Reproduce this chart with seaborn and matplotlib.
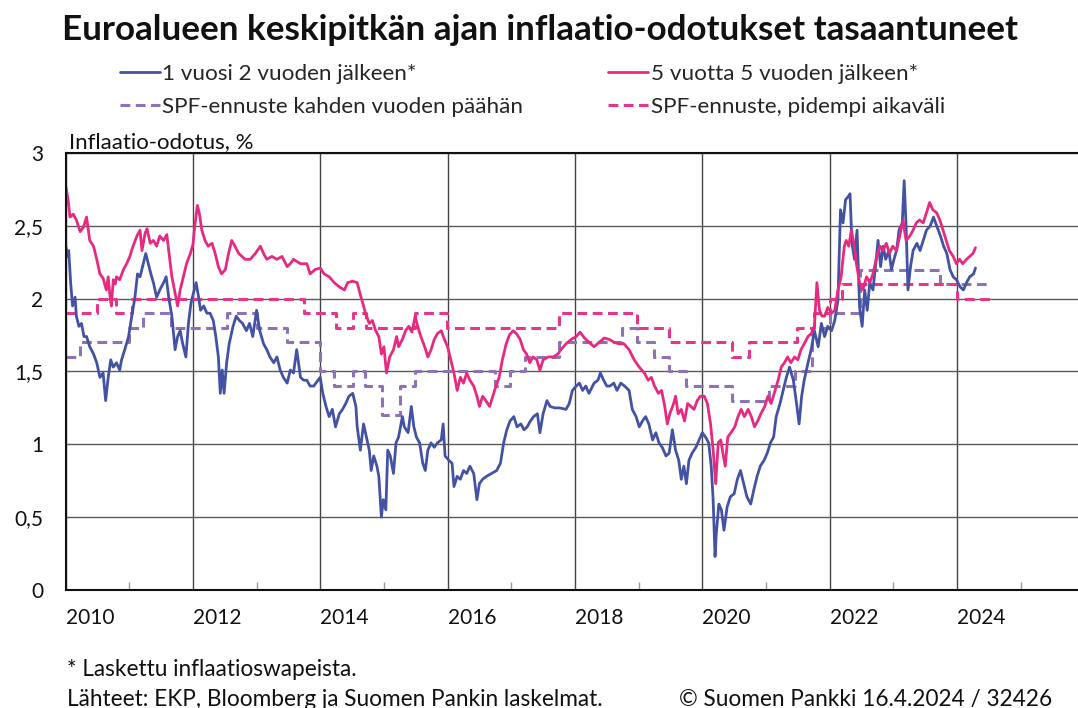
import matplotlib
matplotlib.use("Agg")
import matplotlib.pyplot as plt
import seaborn as sns

# 1 vuosi 2 vuoden jälkeen (decimal years / %)
t_1y2y = [2010.00, 2010.03, 2010.05, 2010.08, 2010.11, 2010.15, 2010.17, 2010.21, 2010.25, 2010.29,
          2010.33, 2010.38, 2010.44, 2010.49, 2010.54, 2010.59, 2010.63, 2010.67, 2010.71, 2010.75,
          2010.80, 2010.85, 2010.88, 2010.93, 2010.99, 2011.04, 2011.09, 2011.13, 2011.17, 2011.22,
          2011.26, 2011.30, 2011.34, 2011.38, 2011.43, 2011.48, 2011.54, 2011.58, 2011.62, 2011.67,
          2011.72, 2011.76, 2011.80, 2011.84, 2011.89, 2011.93, 2011.97, 2012.01, 2012.05, 2012.09,
          2012.12, 2012.17, 2012.22, 2012.27, 2012.32, 2012.36, 2012.40, 2012.43, 2012.46, 2012.49,
          2012.53, 2012.57, 2012.63, 2012.68, 2012.73, 2012.78, 2012.84, 2012.89, 2012.94, 2013.00,
          2013.05, 2013.11, 2013.16, 2013.21, 2013.27, 2013.32, 2013.37, 2013.42, 2013.48, 2013.53,
          2013.58, 2013.63, 2013.69, 2013.74, 2013.79, 2013.84, 2013.90, 2013.93, 2014.00, 2014.04,
          2014.09, 2014.14, 2014.19, 2014.24, 2014.30, 2014.35, 2014.40, 2014.45, 2014.51, 2014.56,
          2014.58, 2014.63, 2014.68, 2014.71, 2014.77, 2014.80, 2014.84, 2014.89, 2014.92, 2014.96,
          2014.99, 2015.03, 2015.06, 2015.10, 2015.15, 2015.19, 2015.23, 2015.29, 2015.32, 2015.38,
          2015.43, 2015.47, 2015.51, 2015.56, 2015.61, 2015.65, 2015.69, 2015.74, 2015.79, 2015.84,
          2015.90, 2015.93, 2015.96, 2016.02, 2016.07, 2016.10, 2016.15, 2016.20, 2016.25, 2016.30,
          2016.35, 2016.41, 2016.46, 2016.50, 2016.55, 2016.61, 2016.69, 2016.77, 2016.83, 2016.88,
          2016.93, 2016.98, 2017.04, 2017.09, 2017.15, 2017.20, 2017.25, 2017.30, 2017.35, 2017.41,
          2017.45, 2017.50, 2017.56, 2017.61, 2017.68, 2017.76, 2017.86, 2017.91, 2017.96, 2018.02,
          2018.07, 2018.12, 2018.17, 2018.22, 2018.30, 2018.36, 2018.40, 2018.45, 2018.50, 2018.55,
          2018.61, 2018.66, 2018.72, 2018.78, 2018.85, 2018.90, 2018.96, 2019.01, 2019.06, 2019.11,
          2019.16, 2019.22, 2019.27, 2019.32, 2019.37, 2019.43, 2019.48, 2019.53, 2019.58, 2019.63,
          2019.67, 2019.71, 2019.75, 2019.79, 2019.84, 2019.90, 2019.95, 2020.00, 2020.05, 2020.10,
          2020.14, 2020.17, 2020.20, 2020.22, 2020.26, 2020.30, 2020.34, 2020.39, 2020.44, 2020.50,
          2020.55, 2020.60, 2020.65, 2020.70, 2020.76, 2020.81, 2020.86, 2020.91, 2020.97, 2021.02,
          2021.07, 2021.12, 2021.16, 2021.22, 2021.27, 2021.32, 2021.37, 2021.43, 2021.48, 2021.52,
          2021.56, 2021.60, 2021.66, 2021.71, 2021.76, 2021.82, 2021.87, 2021.92, 2021.97, 2022.03,
          2022.08, 2022.13, 2022.17, 2022.21, 2022.25, 2022.29, 2022.32, 2022.35, 2022.39, 2022.43,
          2022.47, 2022.51, 2022.55, 2022.59, 2022.63, 2022.68, 2022.72, 2022.76, 2022.80, 2022.84,
          2022.88, 2022.93, 2022.97, 2023.01, 2023.05, 2023.09, 2023.14, 2023.17, 2023.20, 2023.23,
          2023.27, 2023.31, 2023.37, 2023.42, 2023.47, 2023.52, 2023.58, 2023.63, 2023.68, 2023.74,
          2023.79, 2023.84, 2023.89, 2023.94, 2023.99, 2024.05, 2024.10, 2024.15, 2024.20, 2024.26,
          2024.29]
v_1y2y = [2.37, 2.29, 2.33, 2.11, 1.95, 2.01, 1.88, 1.81, 1.83, 1.74,
          1.74, 1.67, 1.62, 1.56, 1.46, 1.49, 1.30, 1.46, 1.58, 1.53,
          1.56, 1.51, 1.58, 1.65, 1.74, 1.88, 2.01, 2.17, 2.15, 2.24,
          2.31, 2.24, 2.17, 2.11, 2.01, 2.06, 2.11, 2.15, 2.01, 1.88,
          1.65, 1.74, 1.78, 1.69, 1.60, 1.83, 1.97, 2.04, 2.11, 2.01,
          1.92, 1.95, 1.90, 1.90, 1.85, 1.74, 1.60, 1.35, 1.51, 1.35,
          1.56, 1.69, 1.81, 1.88, 1.85, 1.83, 1.78, 1.83, 1.74, 1.92,
          1.78, 1.69, 1.65, 1.60, 1.56, 1.60, 1.51, 1.46, 1.42, 1.51,
          1.49, 1.65, 1.46, 1.44, 1.44, 1.40, 1.40, 1.42, 1.46, 1.35,
          1.26, 1.19, 1.24, 1.12, 1.21, 1.24, 1.28, 1.33, 1.35, 1.26,
          1.12, 0.96, 1.14, 1.08, 0.96, 0.82, 0.92, 0.85, 0.78, 0.50,
          0.62, 0.55, 0.96, 0.92, 0.80, 1.01, 1.05, 1.19, 1.12, 1.08,
          1.26, 1.12, 1.05, 1.01, 0.87, 0.82, 0.96, 1.01, 0.98, 1.01,
          1.03, 1.14, 0.92, 0.89, 0.87, 0.71, 0.78, 0.76, 0.82, 0.80,
          0.85, 0.80, 0.62, 0.73, 0.76, 0.78, 0.80, 0.82, 0.87, 1.01,
          1.10, 1.16, 1.19, 1.12, 1.14, 1.10, 1.12, 1.16, 1.19, 1.21,
          1.08, 1.21, 1.30, 1.26, 1.25, 1.25, 1.24, 1.28, 1.37, 1.40,
          1.42, 1.37, 1.40, 1.35, 1.42, 1.44, 1.49, 1.44, 1.40, 1.40,
          1.42, 1.37, 1.42, 1.40, 1.37, 1.24, 1.19, 1.12, 1.16, 1.19,
          1.14, 1.03, 1.08, 1.01, 0.98, 0.92, 0.94, 1.10, 0.96, 0.89,
          0.76, 0.85, 0.73, 0.89, 0.94, 0.98, 1.03, 1.08, 1.05, 1.01,
          0.85, 0.62, 0.23, 0.39, 0.59, 0.55, 0.41, 0.57, 0.64, 0.66,
          0.76, 0.82, 0.73, 0.64, 0.59, 0.69, 0.78, 0.85, 0.89, 0.94,
          1.01, 1.05, 1.19, 1.28, 1.37, 1.46, 1.53, 1.44, 1.28, 1.14,
          1.33, 1.44, 1.56, 1.65, 1.78, 1.67, 1.83, 1.74, 1.81, 1.78,
          1.85, 1.99, 2.61, 2.52, 2.68, 2.70, 2.72, 2.38, 2.27, 2.47,
          1.94, 1.81, 2.06, 1.92, 2.11, 2.06, 2.22, 2.40, 2.22, 2.36,
          2.27, 2.33, 2.20, 2.27, 2.33, 2.47, 2.52, 2.81, 2.50, 2.06,
          2.22, 2.33, 2.38, 2.33, 2.40, 2.47, 2.50, 2.56, 2.50, 2.43,
          2.36, 2.31, 2.20, 2.15, 2.13, 2.08, 2.06, 2.11, 2.15, 2.17,
          2.21]

# 5 vuotta 5 vuoden jälkeen
t_5y5y = [2010.00, 2010.04, 2010.07, 2010.12, 2010.17, 2010.23, 2010.28, 2010.33, 2010.38, 2010.44,
          2010.49, 2010.54, 2010.59, 2010.64, 2010.67, 2010.70, 2010.72, 2010.75, 2010.78, 2010.80,
          2010.85, 2010.91, 2010.96, 2011.01, 2011.06, 2011.12, 2011.17, 2011.20, 2011.25, 2011.28,
          2011.33, 2011.38, 2011.43, 2011.48, 2011.54, 2011.59, 2011.62, 2011.67, 2011.72, 2011.76,
          2011.80, 2011.85, 2011.90, 2011.96, 2012.00, 2012.03, 2012.07, 2012.10, 2012.14, 2012.19,
          2012.24, 2012.30, 2012.35, 2012.40, 2012.45, 2012.51, 2012.56, 2012.61, 2012.66, 2012.72,
          2012.77, 2012.82, 2012.90, 2012.98, 2013.06, 2013.11, 2013.16, 2013.24, 2013.32, 2013.40,
          2013.48, 2013.53, 2013.58, 2013.69, 2013.79, 2013.84, 2013.92, 2014.00, 2014.06, 2014.14,
          2014.22, 2014.30, 2014.38, 2014.43, 2014.51, 2014.58, 2014.64, 2014.68, 2014.71, 2014.77,
          2014.82, 2014.87, 2014.92, 2014.96, 2015.00, 2015.04, 2015.09, 2015.15, 2015.20, 2015.23,
          2015.29, 2015.34, 2015.39, 2015.44, 2015.49, 2015.53, 2015.58, 2015.64, 2015.69, 2015.74,
          2015.79, 2015.84, 2015.90, 2015.95, 2016.00, 2016.05, 2016.10, 2016.15, 2016.20, 2016.25,
          2016.30, 2016.35, 2016.41, 2016.46, 2016.50, 2016.55, 2016.60, 2016.66, 2016.71, 2016.76,
          2016.81, 2016.86, 2016.92, 2016.97, 2017.03, 2017.08, 2017.14, 2017.19, 2017.24, 2017.29,
          2017.34, 2017.40, 2017.45, 2017.50, 2017.58, 2017.66, 2017.73, 2017.78, 2017.86, 2017.94,
          2018.02, 2018.08, 2018.15, 2018.22, 2018.30, 2018.38, 2018.46, 2018.54, 2018.62, 2018.69,
          2018.77, 2018.85, 2018.93, 2019.01, 2019.09, 2019.15, 2019.20, 2019.25, 2019.31, 2019.36,
          2019.41, 2019.45, 2019.49, 2019.55, 2019.58, 2019.62, 2019.67, 2019.72, 2019.77, 2019.82,
          2019.87, 2019.92, 2019.97, 2020.03, 2020.08, 2020.13, 2020.17, 2020.21, 2020.25, 2020.29,
          2020.33, 2020.36, 2020.40, 2020.45, 2020.51, 2020.56, 2020.61, 2020.66, 2020.72, 2020.77,
          2020.82, 2020.87, 2020.92, 2020.98, 2021.03, 2021.08, 2021.13, 2021.19, 2021.24, 2021.29,
          2021.34, 2021.39, 2021.45, 2021.50, 2021.55, 2021.60, 2021.66, 2021.71, 2021.76, 2021.80,
          2021.84, 2021.88, 2021.92, 2021.97, 2022.03, 2022.08, 2022.13, 2022.18, 2022.23, 2022.26,
          2022.30, 2022.34, 2022.38, 2022.42, 2022.47, 2022.52, 2022.58, 2022.63, 2022.68, 2022.73,
          2022.79, 2022.84, 2022.89, 2022.94, 2022.99, 2023.05, 2023.10, 2023.15, 2023.20, 2023.26,
          2023.31, 2023.36, 2023.41, 2023.47, 2023.52, 2023.57, 2023.62, 2023.68, 2023.73, 2023.78,
          2023.83, 2023.88, 2023.94, 2023.99, 2024.04, 2024.09, 2024.15, 2024.20, 2024.25, 2024.29]
v_5y5y = [2.78, 2.68, 2.56, 2.58, 2.54, 2.46, 2.49, 2.56, 2.40, 2.36,
          2.27, 2.17, 2.14, 2.06, 2.15, 2.01, 1.95, 2.13, 2.10, 2.15,
          2.13, 2.20, 2.24, 2.29, 2.36, 2.43, 2.47, 2.33, 2.45, 2.48,
          2.38, 2.40, 2.36, 2.43, 2.40, 2.44, 2.33, 2.15, 2.04, 1.95,
          2.06, 2.15, 2.24, 2.31, 2.37, 2.50, 2.64, 2.59, 2.47, 2.40,
          2.36, 2.38, 2.31, 2.22, 2.17, 2.20, 2.31, 2.40, 2.36, 2.31,
          2.29, 2.27, 2.27, 2.31, 2.36, 2.31, 2.27, 2.29, 2.27, 2.29,
          2.22, 2.24, 2.27, 2.24, 2.24, 2.17, 2.20, 2.21, 2.17, 2.15,
          2.11, 2.08, 2.06, 2.11, 2.12, 2.11, 2.01, 1.95, 1.90, 1.83,
          1.85, 1.78, 1.74, 1.62, 1.67, 1.49, 1.60, 1.65, 1.74, 1.67,
          1.72, 1.78, 1.81, 1.77, 1.88, 1.81, 1.74, 1.67, 1.60, 1.65,
          1.72, 1.76, 1.78, 1.72, 1.67, 1.58, 1.49, 1.37, 1.46, 1.42,
          1.49, 1.44, 1.40, 1.33, 1.26, 1.33, 1.30, 1.26, 1.33, 1.40,
          1.46, 1.58, 1.69, 1.75, 1.78, 1.76, 1.72, 1.65, 1.62, 1.56,
          1.60, 1.58, 1.51, 1.58, 1.60, 1.60, 1.62, 1.65, 1.69, 1.72,
          1.74, 1.77, 1.73, 1.70, 1.67, 1.70, 1.73, 1.72, 1.70, 1.69,
          1.69, 1.65, 1.58, 1.53, 1.49, 1.44, 1.46, 1.40, 1.35, 1.37,
          1.26, 1.14, 1.21, 1.28, 1.33, 1.21, 1.24, 1.16, 1.28, 1.26,
          1.24, 1.30, 1.33, 1.33, 1.28, 1.14, 0.96, 0.73, 1.01, 1.03,
          0.92, 0.85, 1.05, 1.08, 1.12, 1.19, 1.24, 1.19, 1.24, 1.19,
          1.12, 1.16, 1.21, 1.26, 1.33, 1.28, 1.35, 1.44, 1.53, 1.56,
          1.60, 1.56, 1.60, 1.58, 1.65, 1.69, 1.74, 1.76, 1.81, 2.11,
          1.92, 1.88, 1.88, 1.94, 1.90, 1.92, 2.06, 2.15, 2.36, 2.40,
          2.36, 2.47, 2.38, 2.24, 2.11, 2.06, 2.15, 2.11, 2.17, 2.27,
          2.36, 2.33, 2.38, 2.31, 2.36, 2.33, 2.43, 2.54, 2.40, 2.43,
          2.47, 2.52, 2.54, 2.52, 2.59, 2.66, 2.61, 2.59, 2.54, 2.47,
          2.40, 2.33, 2.29, 2.24, 2.27, 2.24, 2.27, 2.29, 2.31, 2.35]

# SPF-ennuste kahden vuoden päähän (step starts, last value closes the line)
t_spf2 = [2010.00, 2010.23, 2010.99, 2011.22, 2011.66, 2012.53, 2013.00, 2013.48, 2014.00, 2014.22,
          2014.51, 2014.71, 2014.97, 2015.25, 2015.49, 2016.74, 2016.98, 2017.22, 2017.75, 2018.74,
          2018.98, 2019.24, 2019.48, 2019.74, 2020.47, 2021.04, 2021.46, 2021.72, 2022.00, 2022.48,
          2023.74, 2024.52]
v_spf2 = [1.6, 1.7, 1.8, 1.9, 1.8, 1.9, 1.8, 1.7, 1.5, 1.4,
          1.5, 1.4, 1.2, 1.4, 1.5, 1.4, 1.5, 1.6, 1.7, 1.8,
          1.7, 1.6, 1.5, 1.4, 1.3, 1.4, 1.5, 1.8, 1.9, 2.2,
          2.1, 2.1]

# SPF-ennuste, pidempi aikaväli
t_spflt = [2010.00, 2010.50, 2010.80, 2011.05, 2013.75, 2014.25, 2014.51, 2014.72, 2015.49, 2015.99,
           2017.75, 2018.98, 2019.48, 2020.47, 2020.73, 2021.49, 2021.75, 2022.00, 2022.20, 2024.00,
           2024.52]
v_spflt = [1.9, 2.0, 1.9, 2.0, 1.9, 1.8, 1.9, 1.8, 1.9, 1.8,
           1.9, 1.8, 1.7, 1.6, 1.7, 1.8, 1.9, 2.0, 2.1, 2.0,
           2.0]

year_ticks = [2010, 2012, 2014, 2016, 2018, 2020, 2022, 2024]
odd_years = [2011, 2013, 2015, 2017, 2019, 2021, 2023, 2025]
y_ticks = [0, 0.5, 1, 1.5, 2, 2.5, 3]
y_labels = ["0", "0,5", "1", "1,5", "2", "2,5", "3"]

BLUE = "#4452a4"
PINK = "#e62a80"
PURPLE = "#8d72b5"
PINK_D = "#e8358a"

sns.set_theme(style="white")
plt.rcParams["font.family"] = ["Lato", "DejaVu Sans"]

fig = plt.figure(figsize=(10.78, 7.08), dpi=100)
ax = fig.add_axes([0.0608, 0.1667, 0.9392, 0.6172])

sns.lineplot(x=t_spf2, y=v_spf2, ax=ax, color=PURPLE, lw=2.2, drawstyle="steps-post",
             estimator=None, label="SPF-ennuste kahden vuoden päähän")
ax.lines[-1].set_dashes([3.2, 1.8])
sns.lineplot(x=t_spflt, y=v_spflt, ax=ax, color=PINK_D, lw=2.2, drawstyle="steps-post",
             estimator=None, label="SPF-ennuste, pidempi aikaväli")
ax.lines[-1].set_dashes([3.2, 1.8])
sns.lineplot(x=t_1y2y, y=v_1y2y, ax=ax, color=BLUE, lw=2.0, estimator=None,
             label="1 vuosi 2 vuoden jälkeen*")
sns.lineplot(x=t_5y5y, y=v_5y5y, ax=ax, color=PINK, lw=2.0, estimator=None,
             label="5 vuotta 5 vuoden jälkeen*")

h, l = ax.get_legend_handles_labels()
hd = dict(zip(l, h))
order = ["1 vuosi 2 vuoden jälkeen*", "SPF-ennuste kahden vuoden päähän",
         "5 vuotta 5 vuoden jälkeen*", "SPF-ennuste, pidempi aikaväli"]
ax.legend_.remove()
fig.legend([hd[k] for k in order], order, ncol=2, loc="upper left",
           bbox_to_anchor=(0.111, 0.910), frameon=False, fontsize=16.2,
           handlelength=1.8, handletextpad=0.1, columnspacing=3.75,
           labelspacing=0.58, borderpad=0, borderaxespad=0)

ax.set_xlim(2010, 2025.9)
ax.set_ylim(0, 3)
ax.set_yticks(y_ticks)
ax.set_yticklabels(y_labels)
ax.set_xticks(year_ticks)
ax.set_xticklabels([str(y) for y in year_ticks])
for lbl in ax.get_xticklabels():
    lbl.set_horizontalalignment("left")
ax.set_xticks(odd_years, minor=True)
ax.tick_params(axis="both", which="major", length=0, labelsize=15, colors="#111111")
ax.tick_params(axis="x", which="major", pad=13)
ax.tick_params(axis="y", which="major", pad=16)
ax.tick_params(axis="x", which="minor", bottom=True, direction="in", length=6,
               width=1, color="#999999")
ax.set_xlabel("")
ax.set_ylabel("")

ax.yaxis.grid(True, color="#5a5a5a", lw=1.0)
ax.xaxis.grid(True, which="major", color="#444444", lw=1.0)
ax.set_axisbelow(True)
for s in ["left", "bottom", "top"]:
    ax.spines[s].set_color("#111111")
    ax.spines[s].set_linewidth(1.5)
ax.spines["right"].set_visible(False)

ax.text(0.003, 1.002, "Inflaatio-odotus, %", transform=ax.transAxes, ha="left",
        va="bottom", fontsize=16, color="#111111")

fig.text(0.0575, 0.957, "Euroalueen keskipitkän ajan inflaatio-odotukset tasaantuneet",
         fontsize=25.2, fontweight="bold", va="center", ha="left", color="#111111")

fig.text(0.062, 0.054, "* Laskettu inflaatioswapeista.", fontsize=16.3, va="center",
         ha="left", color="#111111")
fig.text(0.062, 0.012, "Lähteet: EKP, Bloomberg ja Suomen Pankin laskelmat.", fontsize=16.3,
         va="center", ha="left", color="#111111")
fig.text(0.976, 0.012, "© Suomen Pankki 16.4.2024 / 32426", fontsize=16.3, va="center",
         ha="right", color="#111111")

fig.savefig("out.png", dpi=100)
